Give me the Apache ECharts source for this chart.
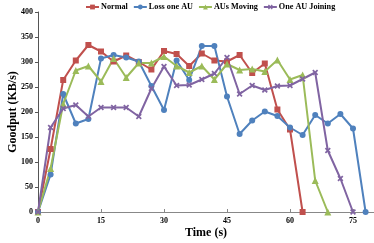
<!DOCTYPE html>
<html><head><meta charset="utf-8">
<script src="https://cdn.jsdelivr.net/npm/echarts@6/dist/echarts.min.js"></script>
<style>html,body{margin:0;padding:0;background:#fff}#c{width:374px;height:243px}</style>
</head><body><div id="c"></div>
<script>
const times = [0,3,6,9,12,15,18,21,24,27,30,33,36,39,42,45,48,51,54,57,60,63,66,69,72,75,78];
const seriesNames = ["Normal","Loss one AU","AUs Moving","One AU Joining"];
const normal = [0,126,264,303,334,321,301,313,300,285,322,316,292,317,303,301,314,278,297,205,165,0];
const lossOneAU = [0,75,236,177,186,307,314,309,301,252,204,303,264,332,332,231,156,183,201,192,169,154,194,177,196,167,0];
const ausMoving = [0,87,216,283,292,261,307,269,298,298,311,292,279,292,265,296,284,286,281,304,265,274,63,0];
const oneAUJoining = [0,169,207,214,191,209,209,209,191,247,291,253,254,265,277,309,236,253,244,252,253,266,279,123,67,0];
const yTicks = [0,50,100,150,200,250,300,350,400];
const xTicks = [0,15,30,45,60,75];

const font = "Liberation Serif";
const colors = ["#C0504D","#4F81BD","#9BBB59","#8064A2"];
const symbols = ["rect","circle","triangle","path://M0,2 L2,0 L5,3 L8,0 L10,2 L7,5 L10,8 L8,10 L5,7 L2,10 L0,8 L3,5 Z"];
const sizes = [6,6,7,6];
const dataSets = [normal, lossOneAU, ausMoving, oneAUJoining];

const chart = echarts.init(document.getElementById('c'), null, {renderer:'canvas'});
chart.setOption({
  animation:false,
  color: colors,
  legend:{
    top:1, left:85, right:0, itemGap:5, itemWidth:13, itemHeight:6, padding:[2,0,2,0],
    textStyle:{fontFamily:font, fontWeight:'bold', fontSize:8.2, color:'#000', padding:[0,0,0,-3]},
    data: seriesNames
  },
  grid:{left:38, right:0, top:12, bottom:31, outerBoundsMode:'none', containLabel:false},
  xAxis:{
    type:'value', min:0, max:80, interval:15,
    name:'Time (s)', nameLocation:'middle', nameGap:15, nameMoveOverlap:false,
    nameTextStyle:{fontFamily:font, fontWeight:'bold', fontSize:12, color:'#000'},
    axisLine:{lineStyle:{color:'#888', width:1}},
    axisTick:{inside:true, length:3, lineStyle:{color:'#888'}},
    axisLabel:{fontFamily:font, fontWeight:'bold', fontSize:8, color:'#000', margin:5,
      formatter: v => xTicks.includes(v) ? String(v) : ''},
    splitLine:{show:false}
  },
  yAxis:{
    type:'value', min:0, max:400, interval:50,
    name:'Goodput (KB/s)', nameLocation:'middle', nameGap:19, nameMoveOverlap:false,
    nameTextStyle:{fontFamily:font, fontWeight:'bold', fontSize:12, color:'#000'},
    axisLine:{show:true, lineStyle:{color:'#555', width:1}},
    axisTick:{show:true, length:3, lineStyle:{color:'#555'}},
    axisLabel:{fontFamily:font, fontWeight:'bold', fontSize:8, color:'#000', margin:5,
      formatter: v => yTicks.includes(v) ? String(v) : ''},
    splitLine:{show:false}
  },
  series: seriesNames.map((n,i)=>({
    name:n, type:'line',
    data: dataSets[i].map((v,j)=>[times[j], v]),
    symbol: symbols[i], symbolSize: sizes[i], showAllSymbol:true,
    lineStyle:{width:2, color:colors[i]},
    itemStyle:{color:colors[i]},
    clip:false
  }))
});
</script></body></html>
